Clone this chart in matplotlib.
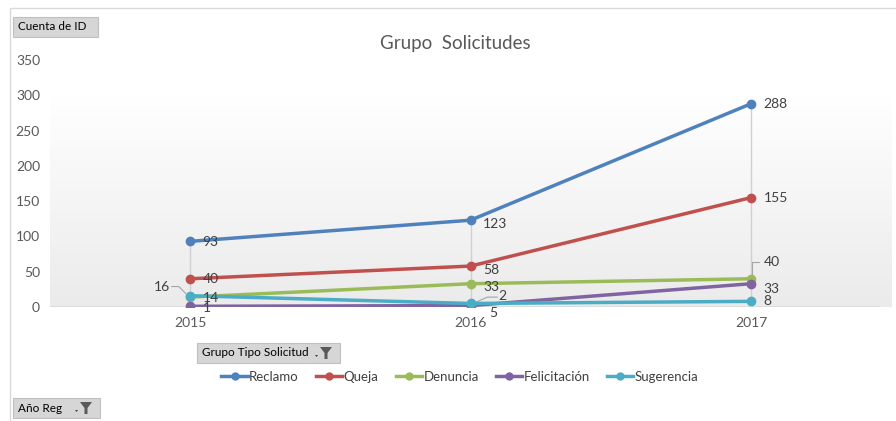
import matplotlib
matplotlib.use("Agg")
import matplotlib.pyplot as plt
import numpy as np
from matplotlib.patches import Rectangle, Polygon
from matplotlib.lines import Line2D

plt.rcParams['font.family'] = ['Lato', 'DejaVu Sans']

years = ["2015", "2016", "2017"]
series_names = ["Reclamo", "Queja", "Denuncia", "Felicitación", "Sugerencia"]
reclamo = [93, 123, 288]
queja = [40, 58, 155]
denuncia = [14, 33, 40]
felicitacion = [1, 2, 33]
sugerencia = [16, 5, 8]
yticks = [0, 50, 100, 150, 200, 250, 300, 350]

series = [reclamo, queja, denuncia, felicitacion, sugerencia]
colors = ["#4F81BD", "#C0504D", "#9BBB59", "#8064A2", "#4BACC6"]

W, H = 896, 421
fig = plt.figure(figsize=(W / 100, H / 100), dpi=100)

def fx(px):
    return px / W

def fy(py):
    return 1 - py / H

# outer border (runs off the right and bottom edges)
fig.patches.append(Rectangle((fx(10), fy(440)), fx(920) - fx(10), fy(8) - fy(440),
                             transform=fig.transFigure, fill=False, edgecolor="#d9d9d9", lw=1))

ax = fig.add_axes([fx(49.75), fy(307), fx(841.5), fy(60) - fy(307)])
x = np.arange(len(years))

# gradient background
grad = np.linspace(0, 1, 256).reshape(-1, 1)
cmap = matplotlib.colors.LinearSegmentedColormap.from_list("g", ["#ebebeb", "#ffffff"])
ax.imshow(grad, extent=(-0.5, 2.5, 0, 300), origin="lower", aspect="auto", cmap=cmap, zorder=0)
ax.set_ylim(0, 350)
ax.set_xlim(-0.5, 2.5)

for s in ax.spines.values():
    s.set_visible(False)
ax.axhline(0, color="#d9d9d9", lw=1.2, xmin=-0.005, xmax=0.985, zorder=1)

# high-low lines
for i in range(len(years)):
    vals = [s[i] for s in series]
    ax.plot([x[i], x[i]], [min(vals), max(vals)], color="#d0d0d0", lw=1, zorder=2)

for name, vals, c in zip(series_names, series, colors):
    ax.plot(x, vals, color=c, lw=2.5, marker="o", ms=6, label=name, zorder=3,
            solid_capstyle="round")

lab_kw = dict(fontsize=10, color="#404040", va="center", zorder=4)
dx = 0.045
for name, vals in zip(series_names, series):
    for i, v in enumerate(vals):
        key = (name, i)
        if key in [("Sugerencia", 0), ("Felicitación", 1), ("Sugerencia", 1), ("Denuncia", 2)]:
            continue
        yoff = 0
        if key == ("Reclamo", 0) or key == ("Queja", 0):
            yoff = -1
        if key == ("Denuncia", 0):
            yoff = -1
        if key == ("Felicitación", 0):
            yoff = -3
        if key == ("Reclamo", 1) or key == ("Queja", 1) or key == ("Denuncia", 1):
            yoff = -5
        if key == ("Felicitación", 2):
            yoff = -7
        ax.text(x[i] + dx, v + yoff, str(v), ha="left", **lab_kw)

# labels with leader lines
ax.text(x[0] - 0.07, 29, str(sugerencia[0]), ha="right", **lab_kw)
ax.plot([x[0] - 0.065, x[0] - 0.04, x[0] - 0.015], [29, 29, sugerencia[0] + 3], color="#a6a6a6", lw=0.8)
ax.text(x[1] + 0.1, 15, str(felicitacion[1]), ha="left", **lab_kw)
ax.plot([x[1] + 0.015, x[1] + 0.06, x[1] + 0.095], [felicitacion[1] + 4, 14, 14], color="#a6a6a6", lw=0.8)
ax.text(x[1] + 0.065, -9, str(sugerencia[1]), ha="left", **lab_kw)
ax.plot([x[1] + 0.01, x[1] + 0.03, x[1] + 0.06], [sugerencia[1] - 3, -8, -8], color="#a6a6a6", lw=0.8)
ax.text(x[2] + 0.045, 64, str(denuncia[2]), ha="left", **lab_kw)
ax.plot([x[2] + 0.003, x[2] + 0.003, x[2] + 0.03], [denuncia[2] + 3, 64, 64], color="#a6a6a6", lw=0.8)

ax.set_yticks(yticks)
ax.set_xticks(x)
ax.set_xticklabels(years)
ax.tick_params(axis="both", length=0, labelsize=10, labelcolor="#595959")
ax.tick_params(axis="y", pad=7)
ax.tick_params(axis="x", pad=7)

fig.text(fx(455), fy(44), "Grupo  Solicitudes", ha="center", va="center", fontsize=13.5, color="#595959")

def button(x0, y0, x1, y1, text, funnel=False):
    fig.patches.append(Rectangle((fx(x0), fy(y1)), fx(x1) - fx(x0), fy(y0) - fy(y1),
                                 transform=fig.transFigure, facecolor="#d6d6d6",
                                 edgecolor="#c0c0c0", lw=0.8))
    fig.text(fx(x0 + 5), fy((y0 + y1) / 2), text, ha="left", va="center", fontsize=8.5, color="#000000")
    if funnel:
        cx = x1 - 14
        cy = (y0 + y1) / 2
        fig.patches.append(Polygon([(fx(cx - 6), fy(cy - 6)), (fx(cx + 6), fy(cy - 6)),
                                    (fx(cx + 1.5), fy(cy)), (fx(cx + 1.5), fy(cy + 6)),
                                    (fx(cx - 1.5), fy(cy + 6)), (fx(cx - 1.5), fy(cy))],
                                   closed=True, transform=fig.transFigure, facecolor="#595959", edgecolor="none"))
        fig.patches.append(Polygon([(fx(cx - 11), fy(cy + 2)), (fx(cx - 8), fy(cy + 2)), (fx(cx - 9.5), fy(cy + 4))],
                                   closed=True, transform=fig.transFigure, facecolor="#404040", edgecolor="none"))

button(13, 17, 98, 37, "Cuenta de ID")
button(197, 343, 340, 363, "Grupo Tipo Solicitud", funnel=True)
button(13, 398, 100, 418, "Año Reg", funnel=True)

handles = [Line2D([0], [0], color=c, lw=2.5, marker="o", ms=5) for c in colors]
fig.legend(handles, series_names, loc="center", bbox_to_anchor=(fx(460), fy(377)), ncol=5,
           frameon=False, fontsize=9.5, labelcolor="#404040", handlelength=2.0,
           handletextpad=0.1, columnspacing=1.3)

fig.savefig("out.png", dpi=100, facecolor="white")
